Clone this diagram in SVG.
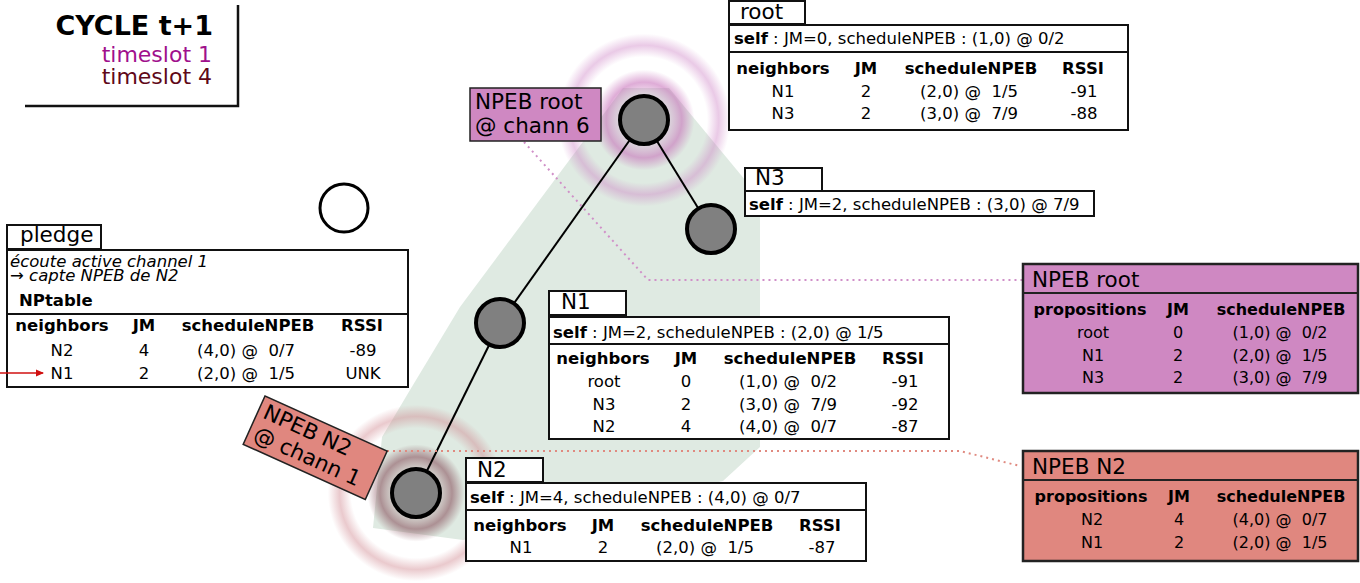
<svg xmlns="http://www.w3.org/2000/svg" width="1360" height="583" viewBox="0 0 1360 583">
<style>
text{font-family:"DejaVu Sans","Liberation Sans",sans-serif;font-size:16.5px;fill:#000}
.b{font-weight:bold}
.c{text-anchor:middle}
.lbl{font-size:21.5px}
.np{font-size:16px}
.box{fill:#fff;stroke:#111;stroke-width:2}
.div{stroke:#111;stroke-width:2}
.node{fill:#808080;stroke:#000;stroke-width:4}
.edge{stroke:#000;stroke-width:2;fill:none}
</style>
<defs>
<radialGradient id="ringRoot" cx="0.5" cy="0.5" r="0.5">
<stop offset="0" stop-color="#d8a0d0" stop-opacity="0"/>
<stop offset="0.26" stop-color="#d090c8" stop-opacity="0.2"/>
<stop offset="0.42" stop-color="#c468b6" stop-opacity="0.55"/>
<stop offset="0.56" stop-color="#c468b6" stop-opacity="0"/>
<stop offset="0.70" stop-color="#cc80c4" stop-opacity="0"/>
<stop offset="0.83" stop-color="#cc80c4" stop-opacity="0.42"/>
<stop offset="0.96" stop-color="#cc80c4" stop-opacity="0"/>
</radialGradient>
<radialGradient id="ringN2" cx="0.5" cy="0.5" r="0.5">
<stop offset="0" stop-color="#a07078" stop-opacity="0"/>
<stop offset="0.26" stop-color="#a07078" stop-opacity="0.2"/>
<stop offset="0.40" stop-color="#8a5560" stop-opacity="0.6"/>
<stop offset="0.54" stop-color="#8a5560" stop-opacity="0"/>
<stop offset="0.72" stop-color="#d08890" stop-opacity="0"/>
<stop offset="0.85" stop-color="#d08890" stop-opacity="0.45"/>
<stop offset="0.98" stop-color="#d08890" stop-opacity="0"/>
</radialGradient>
<marker id="redArrow" markerWidth="8" markerHeight="8" refX="7" refY="4" orient="auto" markerUnits="userSpaceOnUse">
<path d="M0,0.5 L8,4 L0,7.5 z" fill="#d01010"/>
</marker>
</defs>

<!-- green zone -->
<polygon id="zone" points="623,88 669,88 760,198 760,447 723,481 463,540 373,528 382,437 410,390 460,307" fill="#dfeae2"/>

<!-- rings -->
<circle cx="644" cy="120" r="90" fill="url(#ringRoot)"/>
<circle cx="416" cy="493" r="90" fill="url(#ringN2)"/>

<!-- title -->
<g id="title">
<path d="M238,5 V106 H25" fill="none" stroke="#111" stroke-width="2.5"/>
<text x="213" y="35" class="b" style="font-size:27px;text-anchor:end">CYCLE t+1</text>
<text x="212" y="62" style="font-size:22px;text-anchor:end;fill:#a0108c">timeslot 1</text>
<text x="212" y="84" style="font-size:22px;text-anchor:end;fill:#600818">timeslot 4</text>
</g>

<!-- connectors -->
<g id="connectors">
<line class="edge" x1="644" y1="120" x2="711" y2="229"/>
<line class="edge" x1="644" y1="120" x2="500" y2="323"/>
<line class="edge" x1="500" y1="323" x2="416" y2="493"/>
<polyline points="524,142 648,280 1022,280" fill="none" stroke="#d090c8" stroke-width="2" stroke-dasharray="2,4"/>
<polyline points="387,451 960,451 1020,466" fill="none" stroke="#e08a80" stroke-width="2" stroke-dasharray="2,4"/>
</g>

<!-- nodes -->
<g id="node-root"><circle class="node" cx="644" cy="120" r="24"/></g>
<g id="node-N3"><circle class="node" cx="711" cy="229" r="24"/></g>
<g id="node-N1"><circle class="node" cx="500" cy="323" r="24"/></g>
<g id="node-N2"><circle class="node" cx="416" cy="493" r="24"/></g>
<g id="node-pledge"><circle cx="344" cy="208" r="24" fill="#fff" stroke="#000" stroke-width="3"/></g>

<!-- root table -->
<g id="table-root">
<rect class="box" x="729" y="1" width="76" height="23"/>
<text class="lbl" x="740" y="19">root</text>
<rect class="box" x="729" y="25" width="399" height="105"/>
<text x="734" y="44"><tspan class="b">self</tspan> : JM=0, scheduleNPEB : (1,0) @ 0/2</text>
<line class="div" x1="729" y1="52" x2="1128" y2="52"/>
<text class="b c" x="783" y="74">neighbors</text>
<text class="b c" x="866" y="74">JM</text>
<text class="b c" x="971" y="74">scheduleNPEB</text>
<text class="b c" x="1083" y="74">RSSI</text>
<text class="c" x="783" y="97">N1</text><text class="c" x="866" y="97">2</text><text class="c" x="969" y="97">(2,0) @&#160; 1/5</text><text class="c" x="1084" y="97">-91</text>
<text class="c" x="783" y="119">N3</text><text class="c" x="866" y="119">2</text><text class="c" x="969" y="119">(3,0) @&#160; 7/9</text><text class="c" x="1084" y="119">-88</text>
</g>

<!-- N3 table -->
<g id="table-N3">
<rect class="box" x="745" y="168" width="77" height="23"/>
<text class="lbl" x="755" y="185">N3</text>
<rect class="box" x="745" y="191" width="349" height="25"/>
<text x="749" y="210"><tspan class="b">self</tspan> : JM=2, scheduleNPEB : (3,0) @ 7/9</text>
</g>

<!-- pledge table -->
<g id="table-pledge">
<rect class="box" x="7" y="225" width="94" height="24"/>
<text class="lbl" x="20" y="242">pledge</text>
<rect class="box" x="7" y="250" width="401" height="137"/>
<text x="10" y="267" style="font-style:italic">écoute active channel 1</text>
<text x="10" y="281" style="font-style:italic">→ capte NPEB de N2</text>
<text class="b" x="19" y="306">NPtable</text>
<line class="div" x1="7" y1="314" x2="408" y2="314"/>
<text class="b c" x="62" y="331">neighbors</text>
<text class="b c" x="144" y="331">JM</text>
<text class="b c" x="248" y="331">scheduleNPEB</text>
<text class="b c" x="362" y="331">RSSI</text>
<text class="c" x="62" y="356">N2</text><text class="c" x="144" y="356">4</text><text class="c" x="246" y="356">(4,0) @&#160; 0/7</text><text class="c" x="363" y="356">-89</text>
<text class="c" x="62" y="379">N1</text><text class="c" x="144" y="379">2</text><text class="c" x="246" y="379">(2,0) @&#160; 1/5</text><text class="c" x="363" y="379">UNK</text>
<line x1="0" y1="373" x2="43" y2="373" stroke="#d01010" stroke-width="1.5" marker-end="url(#redArrow)"/>
</g>

<!-- N1 table -->
<g id="table-N1">
<rect class="box" x="549" y="291" width="77" height="24"/>
<text class="lbl" x="561" y="309">N1</text>
<rect class="box" x="549" y="317" width="400" height="122"/>
<text x="553" y="338"><tspan class="b">self</tspan> : JM=2, scheduleNPEB : (2,0) @ 1/5</text>
<line class="div" x1="549" y1="344" x2="949" y2="344"/>
<text class="b c" x="603" y="364">neighbors</text>
<text class="b c" x="686" y="364">JM</text>
<text class="b c" x="790" y="364">scheduleNPEB</text>
<text class="b c" x="903" y="364">RSSI</text>
<text class="c" x="604" y="387">root</text><text class="c" x="686" y="387">0</text><text class="c" x="788" y="387">(1,0) @&#160; 0/2</text><text class="c" x="905" y="387">-91</text>
<text class="c" x="604" y="410">N3</text><text class="c" x="686" y="410">2</text><text class="c" x="788" y="410">(3,0) @&#160; 7/9</text><text class="c" x="905" y="410">-92</text>
<text class="c" x="604" y="432">N2</text><text class="c" x="686" y="432">4</text><text class="c" x="788" y="432">(4,0) @&#160; 0/7</text><text class="c" x="905" y="432">-87</text>
</g>

<!-- N2 table -->
<g id="table-N2">
<rect class="box" x="466" y="458" width="77" height="24"/>
<text class="lbl" x="477" y="477">N2</text>
<rect class="box" x="466" y="483" width="400" height="78"/>
<text x="470" y="503"><tspan class="b">self</tspan> : JM=4, scheduleNPEB : (4,0) @ 0/7</text>
<line class="div" x1="466" y1="510" x2="866" y2="510"/>
<text class="b c" x="520" y="531">neighbors</text>
<text class="b c" x="603" y="531">JM</text>
<text class="b c" x="707" y="531">scheduleNPEB</text>
<text class="b c" x="820" y="531">RSSI</text>
<text class="c" x="521" y="553">N1</text><text class="c" x="603" y="553">2</text><text class="c" x="705" y="553">(2,0) @&#160; 1/5</text><text class="c" x="822" y="553">-87</text>
</g>

<!-- NPEB root label -->
<g id="label-npeb-root">
<rect x="470" y="88" width="131" height="53" fill="#cf88c2" stroke="#222" stroke-width="1.5"/>
<text class="lbl" x="475" y="109">NPEB root</text>
<text class="lbl" x="475" y="133">@ chann 6</text>
</g>

<!-- NPEB N2 label (rotated) -->
<g id="label-npeb-n2" transform="translate(265,396) rotate(24.3)">
<rect x="0" y="0" width="134" height="53" fill="#e0877f" stroke="#222" stroke-width="1.5"/>
<text class="lbl" x="6" y="21">NPEB N2</text>
<text class="lbl" x="6" y="45">@ chann 1</text>
</g>

<!-- NPEB root box -->
<g id="box-npeb-root">
<rect x="1023" y="264" width="335" height="129" fill="#cf88c2" stroke="#222" stroke-width="2.5"/>
<text class="lbl" x="1032" y="287">NPEB root</text>
<line x1="1023" y1="293" x2="1358" y2="293" stroke="#222" stroke-width="2"/>
<text class="np b c" x="1090" y="315">propositions</text>
<text class="np b c" x="1178" y="315">JM</text>
<text class="np b c" x="1281" y="315">scheduleNPEB</text>
<text class="np c" x="1093" y="338">root</text><text class="np c" x="1178" y="338">0</text><text class="np c" x="1280" y="338">(1,0) @&#160; 0/2</text>
<text class="np c" x="1093" y="361">N1</text><text class="np c" x="1178" y="361">2</text><text class="np c" x="1280" y="361">(2,0) @&#160; 1/5</text>
<text class="np c" x="1093" y="383">N3</text><text class="np c" x="1178" y="383">2</text><text class="np c" x="1280" y="383">(3,0) @&#160; 7/9</text>
</g>

<!-- NPEB N2 box -->
<g id="box-npeb-n2">
<rect x="1023" y="451" width="335" height="110" fill="#e0877f" stroke="#222" stroke-width="2.5"/>
<text class="lbl" x="1032" y="474">NPEB N2</text>
<line x1="1023" y1="480" x2="1358" y2="480" stroke="#222" stroke-width="2"/>
<text class="np b c" x="1091" y="502">propositions</text>
<text class="np b c" x="1179" y="502">JM</text>
<text class="np b c" x="1281" y="502">scheduleNPEB</text>
<text class="np c" x="1092" y="525">N2</text><text class="np c" x="1179" y="525">4</text><text class="np c" x="1280" y="525">(4,0) @&#160; 0/7</text>
<text class="np c" x="1092" y="548">N1</text><text class="np c" x="1179" y="548">2</text><text class="np c" x="1280" y="548">(2,0) @&#160; 1/5</text>
</g>
</svg>
